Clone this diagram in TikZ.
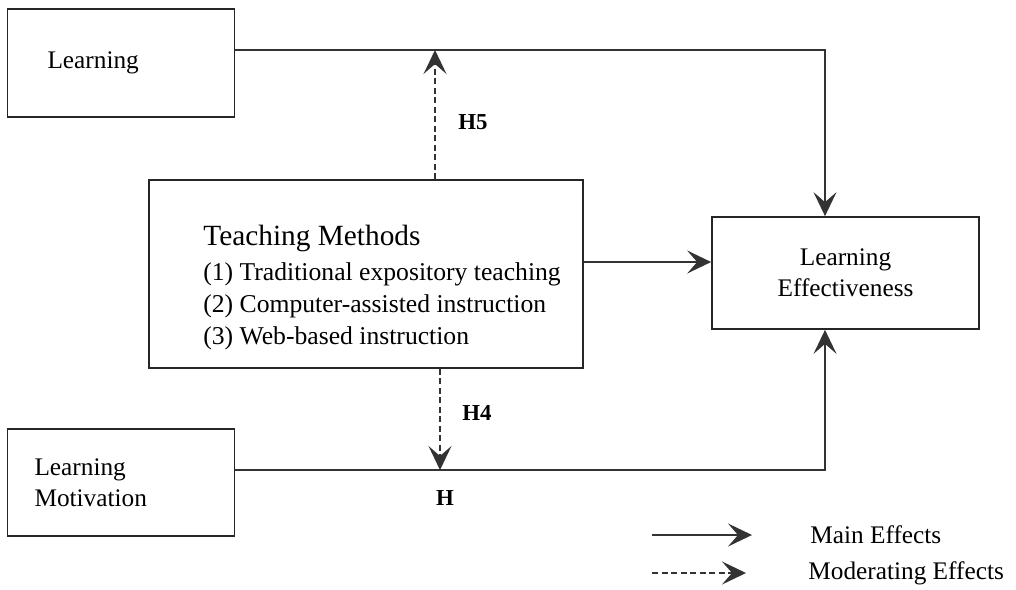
\documentclass[tikz,border=0pt]{standalone}
\usepackage{fontspec}
\setmainfont{Liberation Serif}
\usepackage{tikz}
\usetikzlibrary{arrows.meta,positioning,calc}

\begin{document}
\begin{tikzpicture}[x=0.02cm, y=-0.02cm,
    box/.style={draw=black!85, line width=1pt, minimum width=4.54cm, font=\fontsize{14.4}{17.6}\selectfont},
    main/.style={draw=black!80, line width=0.9pt, -{Stealth[length=0.48cm, width=0.46cm, inset=0.2cm]}},
    moder/.style={main, dash pattern=on 0.12cm off 0.07cm},
    hlab/.style={font=\fontsize{13}{15}\selectfont\bfseries, inner sep=0pt},
    leglab/.style={anchor=west, inner sep=0pt, font=\fontsize{14.4}{17}\selectfont}
]
\useasboundingbox (0,0) rectangle (1016,589);

\node[box, align=left, text width=2.94cm, inner xsep=0.8cm, minimum height=2.16cm] (learn) at (121,63) {Learning};
\node[box, align=left, text width=3.46cm, inner xsep=0.54cm, minimum height=2.14cm] (lm) at (121,482.5) {Learning\\Motivation};
\node[box, minimum width=8.68cm, minimum height=3.76cm] (tm) at (366,274) {};
\node[anchor=north west, inner sep=0pt, align=left, font=\fontsize{14.6}{18}\selectfont] (tmtext) at (203,225)
    {{\fontsize{16.7}{20}\selectfont Teaching Methods}\\[2pt]
     (1) Traditional expository teaching\\
     (2) Computer-assisted instruction\\
     (3) Web-based instruction};
\node[box, align=center, minimum width=5.34cm, minimum height=2.24cm] (le) at (845.5,273) {Learning\\Effectiveness};

\coordinate (topturn) at (825,50);
\coordinate (botturn) at (825,470);
\coordinate (h5tip) at (435,50);
\coordinate (h4tip) at (440,470);

\draw[main] (learn.east |- topturn) -- (topturn) -- (topturn |- le.north);
\draw[main] (lm.east |- botturn) -- (botturn) -- (botturn |- le.south);
\draw[main] ([yshift=0.24cm]tm.east) -- ([yshift=0.24cm]tm.east -| le.west);
\draw[moder] (tm.north -| h5tip) -- (h5tip);
\draw[moder] (tm.south -| h4tip) -- (h4tip);

\node[hlab] (h5) at (473,122) {H5};
\node[hlab] (h4) at (477,413) {H4};
\node[hlab] (h) at (445,498) {H};

\coordinate (mainstart) at (652,535);
\coordinate (mainend) at (752,535);
\coordinate (modstart) at (652,573);
\coordinate (modend) at (746,573);
\node[leglab] (mainlab) at (810,535) {Main Effects};
\node[leglab] (modlab) at (808,573) {Moderating Effects};
\draw[main] (mainstart) -- (mainend);
\draw[moder] (modstart) -- (modend);
\end{tikzpicture}
\end{document}
